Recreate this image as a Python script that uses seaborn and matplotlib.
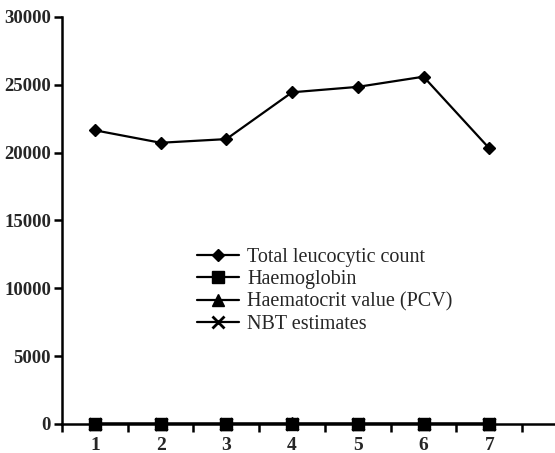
import matplotlib
matplotlib.use("Agg")
import matplotlib.pyplot as plt
import seaborn as sns
import pandas as pd

days = [1, 2, 3, 4, 5, 6, 7]
tlc = [21650, 20730, 21000, 24450, 24850, 25600, 20320]
haemoglobin = [12, 11.5, 11.8, 12.2, 12.0, 11.9, 12.1]
pcv = [36, 35, 35.5, 37, 36.5, 36, 36.8]
nbt = [8, 9, 10, 12, 11, 10, 9]
series_names = ["Total leucocytic count", "Haemoglobin",
                "Haematocrit value (PCV)", "NBT estimates"]

sns.set_theme(style="ticks")
plt.rcParams['font.family'] = ['Liberation Serif', 'DejaVu Serif']

rows = []
for name, vals in zip(series_names, [tlc, haemoglobin, pcv, nbt]):
    for d, v in zip(days, vals):
        rows.append({"day": d, "value": v, "series": name})
df = pd.DataFrame(rows)

fig = plt.figure(figsize=(5.55, 4.53), dpi=100)
ax = fig.add_axes([62/555, 29/453, 1 - 62/555, (424-17)/453])

markers = {"Total leucocytic count": "D", "Haemoglobin": "s",
           "Haematocrit value (PCV)": "^", "NBT estimates": "x"}
sizes = {"Total leucocytic count": 6.5, "Haemoglobin": 8,
         "Haematocrit value (PCV)": 9, "NBT estimates": 8}
for name in series_names:
    sub = df[df.series == name]
    sns.lineplot(data=sub, x="day", y="value", ax=ax, color="black",
                 marker=markers[name], markersize=sizes[name],
                 markeredgewidth=2 if name == "NBT estimates" else 1,
                 markeredgecolor="black", linewidth=1.6, label=name,
                 clip_on=False, zorder=3)

ax.set_xlim(0.5, 8.0)
ax.set_ylim(0, 30000)
ax.set_yticks([0, 5000, 10000, 15000, 20000, 25000, 30000])
ax.set_yticklabels(["0", "5000", "10000", "15000", "20000", "25000", "30000"],
                   fontsize=13.5, fontweight="bold")
ax.set_xticks(days)
ax.set_xticklabels([str(d) for d in days], fontsize=14, fontweight="semibold")
ax.set_xticks([0.5 + i for i in range(8)], minor=True)
ax.tick_params(axis="x", which="major", length=0, pad=9)
ax.tick_params(axis="x", which="minor", length=6, width=1.8, direction="out", color="black")
ax.tick_params(axis="y", which="major", length=6, width=1.8, direction="out", color="black", pad=2)
ax.set_xlabel("")
ax.set_ylabel("")
sns.despine(ax=ax)
ax.spines["left"].set_linewidth(1.8)
ax.spines["bottom"].set_linewidth(1.8)
ax.spines["left"].set_color("black")
ax.spines["bottom"].set_color("black")

ax.legend(loc="upper left", frameon=False,
          fontsize=14.5, handlelength=2.1, handletextpad=0.4,
          labelspacing=0.17, borderpad=0)
leg = ax.get_legend()
leg.set_bbox_to_anchor((125/493, 0.458), transform=ax.transAxes)

fig.savefig("out.png", dpi=100)
